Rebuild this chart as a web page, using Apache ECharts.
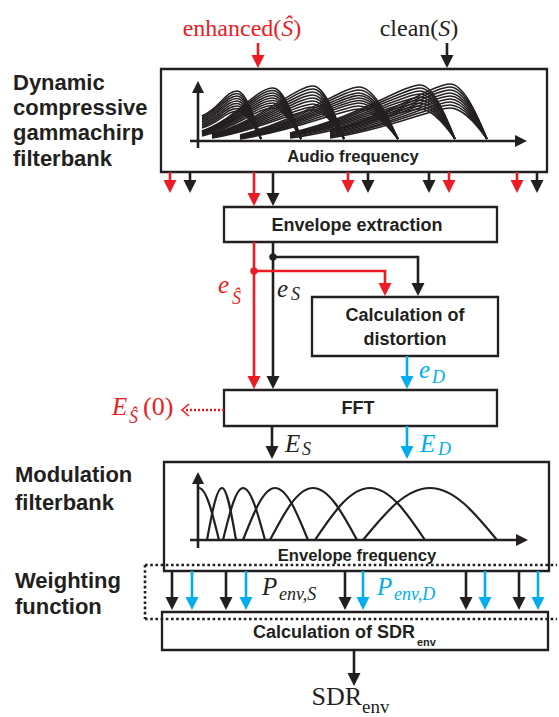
<!DOCTYPE html>
<html><head><meta charset="utf-8">
<script src="https://cdn.jsdelivr.net/npm/echarts@6/dist/echarts.min.js"></script>
<style>html,body{margin:0;padding:0;background:#fff}#c{width:559px;height:717px}</style>
</head><body><div id="c"></div>
<script>
// ---------- data (diagram coordinates, y downward) ----------
const boxes = [[161,69,547,172],[224,207,497,242],[312,297,498,356],[224,390,497,426],[164,462,549,571],[162,612,548,650]];
const arrows = [
  ['r',[[258,43],[258,68]]], ['k',[[447,43],[447,68]]],
  ['r',[[170,172],[170,193]]], ['k',[[190,172],[190,193]]],
  ['r',[[254,172],[254,206]]], ['k',[[273,172],[273,206]]],
  ['r',[[348,172],[348,193]]], ['k',[[368,172],[368,193]]],
  ['k',[[429,172],[429,193]]], ['r',[[449,172],[449,193]]],
  ['r',[[517,172],[517,193]]], ['k',[[537,172],[537,193]]],
  ['r',[[254,242],[254,389]]], ['k',[[273,242],[273,389]]],
  ['k',[[273,257],[418,257],[418,296]]],
  ['r',[[254,271],[385,271],[385,296]]],
  ['b',[[407,356],[407,389]]],
  ['k',[[272,426],[272,459]]], ['b',[[407,426],[407,459]]],
  ['k',[[172,571],[172,610]]], ['b',[[192,571],[192,610]]],
  ['k',[[226,571],[226,610]]], ['b',[[246,571],[246,610]]],
  ['k',[[345,571],[345,610]]], ['b',[[363,571],[363,610]]],
  ['k',[[466,571],[466,610]]], ['b',[[485,571],[485,610]]],
  ['k',[[519,571],[519,610]]], ['b',[[538,571],[538,610]]],
  ['k',[[354,650],[354,686]]]
];
const axisArrows = [
  [[198,148],[198,81]], [[190,141],[527,141]],
  [[198,548],[198,472]], [[190,540],[528,540]]
];
const dots = [[273,257,'k'],[254,271,'r']];
const dottedLines = [[145,565,557,565],[145,565,145,619],[145,619,557,619]];
// gammachirp groups: [peakX, endX, startX]
const gcGroups = [[237,261,202],[273,301,202],[313,344,212],[359,398,240],[420,455,290],[450,487,330]];
const gcPeakY = [
  [91,93.5,96,98.5,101,103.5,106,108.5,111],
  [88,90.5,93,95.5,98,100.5,103,105.5,108],
  [86,89,92,95,98,101,104,107,110],
  [87,90,93,95.5,98,100.5,103,106,109],
  [85,88,91,94,97,100,103,106,109],
  [84,87,90,93,96,99,102,105,108]
];
const gcStartY = [
  [116,117.5,119,120.5,122,123.5,125,126.5,128],
  [131,131.5,132,132.5,133,133.5,134,135,136],
  [134,134.5,135,135.5,136,136.5,137,137.5,138],
  [135,135.5,136,136.5,137,137.5,138,138.5,139],
  [133,133.5,134,134.5,135,135.5,136,137,138],
  [130,131,132,133,134,135,136,137,138]
];
const gcBaseY = 139;
// modulation filters: [leftX, peakX, rightX]
const modFilters = [[198,199,219],[207,222,236],[223,243,265],[243,275,308],[270,313,357],[315,370,425],[363,430,497]];
const modPeakY = 488, modBaseY = 540;
// labels: [x, y(middle), text, style, colour, align]
const labels = [
  [13,82,'Dynamic','sL','k','left'], [13,107,'compressive','sL','k','left'],
  [13,132,'gammachirp','sL','k','left'], [13,158,'filterbank','sL','k','left'],
  [15,474,'Modulation','sL','k','left'], [15,502,'filterbank','sL','k','left'],
  [15,580,'Weighting','sL','k','left'], [15,606,'function','sL','k','left'],
  [353,156,'Audio frequency','sA','k','center'],
  [357,225,'Envelope extraction','sM','k','center'],
  [405,315,'Calculation of','sM','k','center'],
  [405,339,'distortion','sM','k','center'],
  [358,408,'FFT','sM','k','center'],
  [357,555,'Envelope frequency','sA','k','center'],
  [415,632,'Calculation of SDR','sM','k','right'],
  [417,642,'env','sS','k','left'],
  [242,28,'{r|enhanced(}{i|Ŝ}{r|)}','rich','r','center'],
  [419,28,'{r|clean(}{i|S}{r|)}','rich','k','center'],
  [218,284,'e','mi','r','left'], [232,298,'Ŝ','ms','r','left'],
  [277,288,'e','mi','k','left'], [291,294,'S','ms','k','left'],
  [419,369,'e','mi','b','left'], [432,377,'D','ms','b','left'],
  [112,406,'E','mi','r','left'], [129,417,'Ŝ','ms','r','left'], [143,406,'(0)','rm','r','left'],
  [285,443,'E','mi','k','left'], [302,449,'S','ms','k','left'],
  [420,443,'E','mi','b','left'], [438,449,'D','ms','b','left'],
  [262,586,'P','mi','k','left'], [279,594,'env,S','ms','k','left'],
  [377,586,'P','mi','b','left'], [394,594,'env,D','ms','b','left'],
  [362,696,'SDR','rm','k','right'], [362,706,'env','rs','k','left']
];

// ---------- rendering ----------
const COL = {k:'#231f20', r:'#ed1c24', b:'#00aeef'};
const SANS = '"Liberation Sans", Arial, Helvetica, sans-serif';
const SERIF = '"Liberation Serif", "Times New Roman", serif';
const FONTS = {
  sL:{fontFamily:SANS,fontWeight:'bold',fontSize:22},
  sM:{fontFamily:SANS,fontWeight:'bold',fontSize:18},
  sA:{fontFamily:SANS,fontWeight:'bold',fontSize:16.7},
  sS:{fontFamily:SANS,fontWeight:'bold',fontSize:11},
  mi:{fontFamily:SERIF,fontStyle:'italic',fontSize:25},
  ms:{fontFamily:SERIF,fontStyle:'italic',fontSize:18},
  rm:{fontFamily:SERIF,fontSize:26},
  rs:{fontFamily:SERIF,fontSize:19},
  rich:{fontFamily:SERIF,fontSize:24}
};
const RICH = {
  r:{fontFamily:SERIF,fontSize:24,fontStyle:'normal'},
  i:{fontFamily:SERIF,fontSize:24,fontStyle:'italic'}
};

function arrowEls(pts, color, api, L, Wd, lw){
  const c = pts.map(p => api.coord(p));
  const n = c.length;
  const t = c[n-1], p = c[n-2];
  const dx = t[0]-p[0], dy = t[1]-p[1], len = Math.hypot(dx,dy);
  const ux = dx/len, uy = dy/len;
  const bx = t[0]-ux*L, by = t[1]-uy*L;
  const line = c.slice(0,n-1).concat([[t[0]-ux*L*0.6, t[1]-uy*L*0.6]]);
  return [
    {type:'polyline', shape:{points:line}, style:{stroke:color, lineWidth:lw, fill:null}},
    {type:'polygon', shape:{points:[t,[bx-uy*Wd/2, by+ux*Wd/2],[bx+uy*Wd/2, by-ux*Wd/2]]}, style:{fill:color, stroke:null}}
  ];
}
function idx(arr){ return arr.map((_, i) => [i, i]); }

const series = [];
// boxes
series.push({type:'custom', data: boxes, silent:true, renderItem:(params, api)=>{
  const a = api.coord([api.value(0), api.value(1)]), b = api.coord([api.value(2), api.value(3)]);
  return {type:'rect', shape:{x:a[0], y:a[1], width:b[0]-a[0], height:b[1]-a[1]}, style:{stroke:COL.k, lineWidth:2.3, fill:null}};
}});
// gammachirp curves
const gcData = [];
gcGroups.forEach((g, gi) => gcPeakY[gi].forEach((py, ci) => gcData.push([gi, ci])));
series.push({type:'custom', data: gcData, silent:true, renderItem:(params, api)=>{
  const gi = api.value(0), ci = api.value(1);
  const g = gcGroups[gi];
  const S = api.coord([g[2], gcStartY[gi][ci]]), P = api.coord([g[0], gcPeakY[gi][ci]]), E = api.coord([g[1], gcBaseY]);
  const d = P[0]-S[0], h = S[1]-P[1], w = E[0]-P[0], hf = E[1]-P[1];
  const path = 'M'+S[0]+' '+S[1]+
    ' C'+(S[0]+0.5*d)+' '+(S[1]-0.3*h)+' '+(P[0]-Math.min(0.32*d,17))+' '+P[1]+' '+P[0]+' '+P[1]+
    ' C'+(P[0]+0.35*w)+' '+P[1]+' '+(E[0]-0.3*w)+' '+(E[1]-0.5*hf)+' '+E[0]+' '+E[1];
  return {type:'path', shape:{pathData:path}, style:{stroke:COL.k, lineWidth:1.6, fill:null}};
}});
// modulation filters
series.push({type:'custom', data: modFilters, silent:true, renderItem:(params, api)=>{
  const A = api.coord([api.value(0), modBaseY]), P = api.coord([api.value(1), modPeakY]), B = api.coord([api.value(2), modBaseY]);
  const H = A[1]-P[1], wl = P[0]-A[0], wr = B[0]-P[0];
  let path;
  if (wl < 3) {
    path = 'M'+P[0]+' '+P[1];
  } else {
    path = 'M'+A[0]+' '+A[1]+' C'+(A[0]+0.333*wl)+' '+(A[1]-0.524*H)+' '+(A[0]+0.64*wl)+' '+P[1]+' '+P[0]+' '+P[1];
  }
  path += ' C'+(B[0]-0.64*wr)+' '+P[1]+' '+(B[0]-0.333*wr)+' '+(B[1]-0.524*H)+' '+B[0]+' '+B[1];
  return {type:'path', shape:{pathData:path}, style:{stroke:COL.k, lineWidth:2.2, fill:null}};
}});
// axis arrows inside boxes
series.push({type:'custom', data: idx(axisArrows), silent:true, renderItem:(params, api)=>{
  return {type:'group', children: arrowEls(axisArrows[params.dataIndex], COL.k, api, 12, 12, 2.6)};
}});
// flow arrows
series.push({type:'custom', data: idx(arrows), silent:true, renderItem:(params, api)=>{
  const a = arrows[params.dataIndex];
  return {type:'group', children: arrowEls(a[1], COL[a[0]], api, 13, 13, 2.6)};
}});
// junction dots
series.push({type:'custom', data: idx(dots), silent:true, renderItem:(params, api)=>{
  const d = dots[params.dataIndex];
  const c = api.coord([d[0], d[1]]);
  return {type:'circle', shape:{cx:c[0], cy:c[1], r:3.8}, style:{fill:COL[d[2]]}};
}});
// dotted weighting frame
series.push({type:'custom', data: dottedLines, silent:true, renderItem:(params, api)=>{
  const a = api.coord([api.value(0), api.value(1)]), b = api.coord([api.value(2), api.value(3)]);
  return {type:'line', shape:{x1:a[0], y1:a[1], x2:b[0], y2:b[1]}, style:{stroke:COL.k, lineWidth:2.6, lineDash:[2.6,2.6]}};
}});
// dotted red output arrow
const dcArrow = [[224,410],[182,410]];
series.push({type:'custom', data: [[0,0]], silent:true, renderItem:(params, api)=>{
  const a = api.coord(dcArrow[0]), b = api.coord(dcArrow[1]);
  return {type:'group', children:[
    {type:'line', shape:{x1:a[0], y1:a[1], x2:b[0]+2, y2:b[1]}, style:{stroke:COL.r, lineWidth:2.4, lineDash:[2,2]}},
    {type:'polyline', shape:{points:[[b[0]+7,b[1]-6],[b[0],b[1]],[b[0]+7,b[1]+6]]}, style:{stroke:COL.r, lineWidth:1.6, fill:null}}
  ]};
}});
// labels
series.push({type:'custom', data: idx(labels), silent:true, renderItem:(params, api)=>{
  const L = labels[params.dataIndex];
  const c = api.coord([L[0], L[1]]);
  const f = FONTS[L[3]];
  const style = Object.assign({text:L[2], fill:COL[L[4]], align:L[5], verticalAlign:'middle', textAlign:L[5], textVerticalAlign:'middle'}, f);
  if (L[3] === 'rich') style.rich = {r:Object.assign({fill:COL[L[4]]}, RICH.r), i:Object.assign({fill:COL[L[4]]}, RICH.i)};
  return {type:'text', x:c[0], y:c[1], style};
}});

const chart = echarts.init(document.getElementById('c'), null, {renderer:'svg'});
chart.setOption({
  animation:false,
  grid:{left:0,right:0,top:0,bottom:0},
  xAxis:{type:'value', min:0, max:559, show:false},
  yAxis:{type:'value', min:0, max:717, inverse:true, show:false},
  series: series.map(s => Object.assign({clip:false}, s))
});
</script></body></html>
